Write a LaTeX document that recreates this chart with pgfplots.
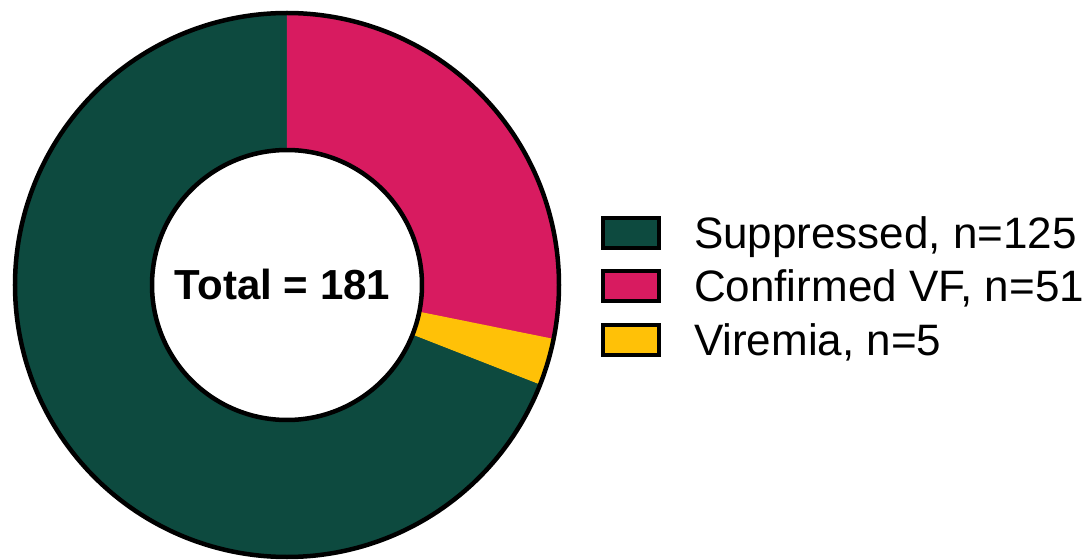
\documentclass[border=0pt]{standalone}
\usepackage{fontspec}
\setmainfont{Liberation Sans}
\usepackage{pgfplots}
\pgfplotsset{compat=1.18}
\definecolor{colS}{HTML}{0D4A3F}
\definecolor{colC}{HTML}{D81B60}
\definecolor{colV}{HTML}{FFC107}
% data
\def\nS{125}
\def\nC{51}
\def\nV{5}
\pgfmathsetmacro\tot{\nS+\nC+\nV}
\pgfmathsetmacro\aC{90}
\pgfmathsetmacro\bC{90-360*(\nC/\tot)}
\pgfmathsetmacro\bV{\bC-360*(\nV/\tot)}
\pgfmathsetmacro\bS{\bV-360*(\nS/\tot)}
\def\rin{0.4963}
% ring segment from angle #2 to angle #3: outer arc (t in [0,1]), radial edge (t in [1,2]), inner arc back (t in [2,3])
\newcommand\seg[3]{%
  \addplot[fill=#1, draw=#1, line width=0.8bp, domain=0:3, samples=301, variable=\t]
    ({((\t<=1) ? 1 : ((\t>=2) ? \rin : (1-(1-\rin)*(\t-1))))*cos((\t<=1) ? ((#2)+((#3)-(#2))*\t) : ((\t>=2) ? ((#3)-((#3)-(#2))*(\t-2)) : (#3)))},
     {((\t<=1) ? 1 : ((\t>=2) ? \rin : (1-(1-\rin)*(\t-1))))*sin((\t<=1) ? ((#2)+((#3)-(#2))*\t) : ((\t>=2) ? ((#3)-((#3)-(#2))*(\t-2)) : (#3)))});
}
\begin{document}
\begin{tikzpicture}
\path[use as bounding box] (-287bp,-275bp) rectangle (797bp,285bp);
\begin{axis}[at={(0,0)}, anchor=origin, x=272bp, y=272bp,
  xmin=-1, xmax=1, ymin=-1, ymax=1, hide axis, clip=false,
  legend cell align=left,
  legend image code/.code={\draw[#1, draw=black, line width=4bp] (2bp,-11bp) rectangle (58bp,19bp);},
  legend style={at={(axis cs:1.1544,0.2537)}, anchor=north west, draw=none, fill=none,
    inner sep=0pt, outer sep=0pt, font=\fontsize{44bp}{52bp}\selectfont,
    row sep=12bp, column sep=33bp,
    nodes={inner sep=0pt, text height=32bp, text depth=9bp}}]
\seg{colS}{\bV}{\bS}
\addlegendentry{Suppressed, n=125}
\seg{colC}{\aC}{\bC}
\addlegendentry{Confirmed VF, n=51}
\seg{colV}{\bC}{\bV}
\addlegendentry{Viremia, n=5}
\addplot[black, line width=4.5bp, domain=0:360, samples=361, forget plot] ({cos(x)},{sin(x)});
\addplot[black, line width=4.5bp, fill=white, domain=0:360, samples=361, forget plot] ({\rin*cos(x)},{\rin*sin(x)});
\node[anchor=base, font=\fontsize{42bp}{50bp}\selectfont\bfseries] at (axis cs:-0.0165,-0.0551) {Total = 181};
\end{axis}
\end{tikzpicture}
\end{document}
